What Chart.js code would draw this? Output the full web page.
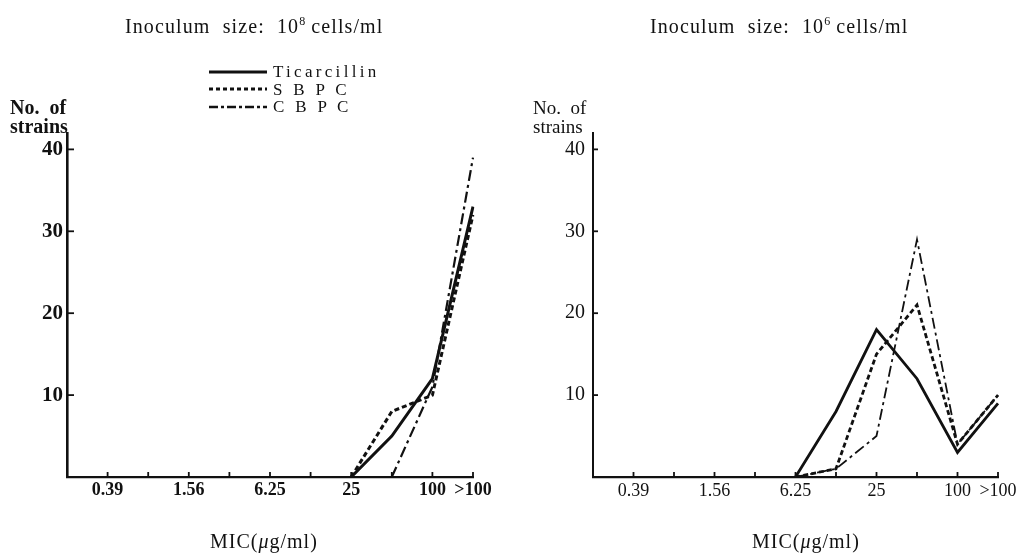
<!DOCTYPE html>
<html>
<head>
<meta charset="utf-8">
<script src="https://cdn.jsdelivr.net/npm/chart.js@4.4.1/dist/chart.umd.min.js"></script>
<style>
  html, body { margin:0; padding:0; background:#fff; }
  #wrap { position:relative; width:1032px; height:555px; overflow:hidden; background:#fff; }
  canvas { position:absolute; top:0; }
  .t { position:absolute; font-family:"Liberation Serif","DejaVu Serif",serif; color:#111; white-space:nowrap; line-height:1; }
  .title { font-size:20px; letter-spacing:1.1px; }
  .title sup { font-size:12px; vertical-align:8px; letter-spacing:0; }
  .ytitle { font-size:19px; line-height:19px; }
  .leg { font-size:17px; letter-spacing:3.3px; line-height:17.5px; }
  .xtitle { font-size:20px; letter-spacing:1px; }
</style>
</head>
<body>
<div id="wrap">
  <canvas id="c1" width="516" height="555" style="left:0"></canvas>
  <canvas id="c2" width="516" height="555" style="left:516px"></canvas>

  <div class="t title" style="left:125px; top:15px;">Inoculum&nbsp; size:&nbsp; 10<sup>8</sup> cells/ml</div>
  <div class="t title" style="left:650px; top:15px;">Inoculum&nbsp; size:&nbsp; 10<sup>6</sup> cells/ml</div>

  <div class="t ytitle" style="left:10px; top:98px; font-weight:bold; font-size:20px;">No.&nbsp; of<br>strains</div>
  <div class="t ytitle" style="left:533px; top:98px;">No.&nbsp; of<br>strains</div>

  <svg style="position:absolute; left:205px; top:62px;" width="70" height="54">
    <line x1="4" y1="10" x2="62" y2="10" stroke="#111" stroke-width="3"/>
    <line x1="4" y1="27" x2="62" y2="27" stroke="#111" stroke-width="3" stroke-dasharray="4,3"/>
    <line x1="4" y1="45" x2="62" y2="45" stroke="#111" stroke-width="2.5" stroke-dasharray="9,3,3,3"/>
  </svg>
  <div class="t leg" style="left:273px; top:63px;">Ticarcillin<br>S B P C<br>C B P C</div>

  <div class="t xtitle" style="left:210px; top:531px;">MIC(<i>μ</i>g/ml)</div>
  <div class="t xtitle" style="left:752px; top:531px;">MIC(<i>μ</i>g/ml)</div>
</div>
<script>
// ---- data ----
const categories = ['', '0.39', '0.78', '1.56', '3.13', '6.25', '12.5', '25', '50', '100', '>100'];
const shownTicks = ['0.39', '1.56', '6.25', '25', '100', '>100'];
const yTickValues = [10, 20, 30, 40];
const seriesNames = ['Ticarcillin', 'S B P C', 'C B P C'];

const left_ticarcillin = [null, null, null, null, null, null, null, 0, 5, 12, 33];
const left_sbpc        = [null, null, null, null, null, null, null, 0, 8, 10, 32];
const left_cbpc        = [null, null, null, null, null, null, null, null, 0, 11, 39];

const right_ticarcillin = [null, null, null, null, null, 0, 8, 18, 12, 3, 9];
const right_sbpc        = [null, null, null, null, null, 0, 1, 15, 21, 4, 10];
const right_cbpc        = [null, null, null, null, null, 0, 1, 5, 29, 4, 10];

// ---- styling ----
const serif = '"Liberation Serif","DejaVu Serif",serif';

const innerTicks = {
  id: 'innerTicks',
  afterDraw(chart, args, opts) {
    const ctx = chart.ctx, x = chart.scales.x, y = chart.scales.y;
    ctx.save();
    ctx.strokeStyle = '#111';
    ctx.lineWidth = opts.width || 2;
    const bottom = chart.chartArea.bottom, left = chart.chartArea.left;
    for (let i = 1; i < categories.length; i++) {
      const px = x.getPixelForTick(i);
      ctx.beginPath(); ctx.moveTo(px, bottom); ctx.lineTo(px, bottom - opts.xLen); ctx.stroke();
    }
    yTickValues.forEach(v => {
      const py = y.getPixelForValue(v);
      ctx.beginPath(); ctx.moveTo(left, py); ctx.lineTo(left + opts.yLen, py); ctx.stroke();
    });
    ctx.restore();
  }
};

function makeChart(id, data, cfg) {
  const styles = [
    { borderWidth: cfg.solidW, borderDash: [] },
    { borderWidth: cfg.dashW, borderDash: [5, 3] },
    { borderWidth: cfg.dotW, borderDash: [11, 4, 3, 4] }
  ];
  return new Chart(document.getElementById(id), {
    type: 'line',
    data: {
      labels: categories,
      datasets: data.map((d, i) => Object.assign({
        label: seriesNames[i],
        data: d,
        borderColor: '#111',
        pointRadius: 0,
        tension: 0,
        fill: false,
        spanGaps: false
      }, styles[i]))
    },
    options: {
      responsive: false,
      devicePixelRatio: 1,
      animation: false,
      layout: { padding: { top: 133, right: cfg.padRight, left: 0, bottom: 0 } },
      plugins: { legend: { display: false }, tooltip: { enabled: false }, innerTicks: { xLen: 5, yLen: cfg.yLen, width: 1.8 } },
      scales: {
        x: {
          type: 'category',
          offset: false,
          grid: { display: false, drawTicks: false },
          border: { display: true, color: '#111', width: 2.2 },
          afterFit(s) { s.height = 78; },
          ticks: {
            autoSkip: false, maxRotation: 0, padding: 3, color: '#111',
            font: { family: serif, size: cfg.xFont, weight: cfg.labelWeight },
            callback(v, i) { const l = categories[i]; return shownTicks.includes(l) ? l : ''; }
          }
        },
        y: {
          min: 0, max: 42,
          grid: { display: false, drawTicks: false },
          border: { display: true, color: '#111', width: cfg.yAxisW },
          afterFit(s) { s.width = cfg.yWidth; },
          afterBuildTicks(s) { s.ticks = [0].concat(yTickValues, [42]).map(v => ({ value: v })); },
          ticks: {
            padding: cfg.yPad, color: '#111',
            font: { family: serif, size: cfg.yFont, weight: cfg.labelWeight },
            callback(v) { return yTickValues.includes(v) ? String(v) : ''; }
          }
        }
      }
    },
    plugins: [innerTicks]
  });
}

makeChart('c1', [left_ticarcillin, left_sbpc, left_cbpc],
  { solidW: 3, dashW: 3, dotW: 2.2, padRight: 43, yWidth: 67, yPad: 4, yLen: 7, yAxisW: 2.6, labelWeight: 'bold', xFont: 18, yFont: 21 });
makeChart('c2', [right_ticarcillin, right_sbpc, right_cbpc],
  { solidW: 2.8, dashW: 2.8, dotW: 1.8, padRight: 34, yWidth: 77, yPad: 8, yLen: 5, yAxisW: 2, labelWeight: 'normal', xFont: 18, yFont: 20 });
</script>
</body>
</html>
